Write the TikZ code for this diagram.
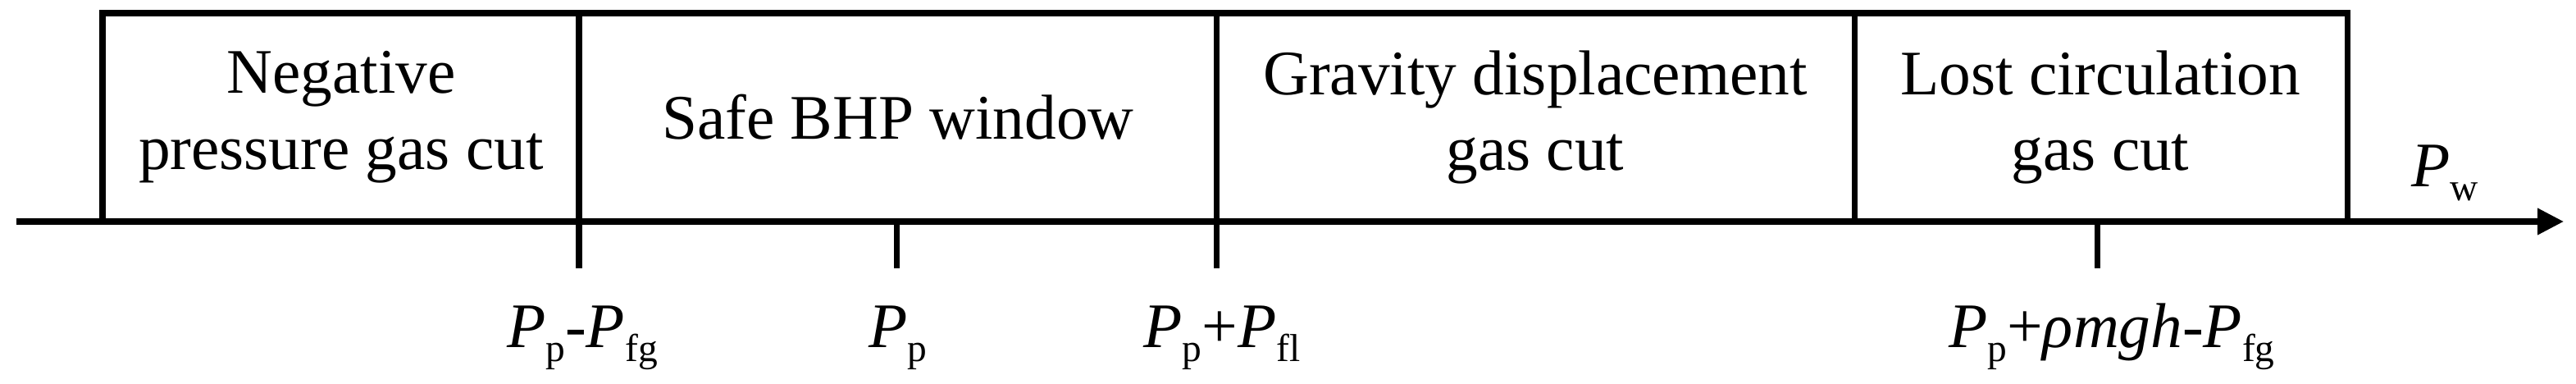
\documentclass[tikz,border=0pt]{standalone}
\usepackage{fontspec}
\setmainfont{Liberation Serif}
\usepackage{tikz}
\usetikzlibrary{arrows.meta,positioning}

% lowered subscript, upright
\newcommand{\lsub}[1]{\raisebox{-5pt}{\fontsize{13.5}{14}\selectfont #1}}

\begin{document}
\begin{tikzpicture}[line width=2pt, every node/.style={font=\fontsize{22}{26.4}\selectfont, inner sep=0pt},
    zone/.style={align=center}, lbl/.style={anchor=base}]

   \useasboundingbox (0,-1.97) rectangle (31.41,2.70);

   % Define the points on the axis
   \coordinate (ax_start) at (0.20,0);
   \coordinate (ax_end) at (31.26,0);
   \coordinate (b0) at (1.25,0);
   \coordinate (b1) at (7.06,0);
   \coordinate (pp) at (10.93,0);
   \coordinate (b2) at (14.83,0);
   \coordinate (b3) at (22.61,0);
   \coordinate (plc) at (25.57,0);
   \coordinate (b4) at (28.62,0);
   \coordinate (top) at (0,2.54);
   \coordinate (tk) at (0,-0.57);

   % Define the zones
   \node[zone] (neg) at (4.16,1.27) {Negative\\pressure gas cut};
   \node[zone] (safe) at (10.95,1.27) {Safe BHP window};
   \node[zone] (grav) at (18.72,1.27) {Gravity displacement\\gas cut};
   \node[zone] (lost) at (25.61,1.27) {Lost circulation\\gas cut};

   % Define the labels
   \node[lbl] (p_neg) at (7.10,-1.53) {\textit{P}\lsub{p}-\textit{P}\lsub{fg}};
   \node[lbl] (p_p) at (10.95,-1.53) {\textit{P}\lsub{p}};
   \node[lbl] (p_fl) at (14.90,-1.53) {\textit{P}\lsub{p}+\textit{P}\lsub{fl}};
   \node[lbl] (p_lc) at (25.75,-1.53) {\textit{P}\lsub{p}+\textit{ρmgh}-\textit{P}\lsub{fg}};
   \node[lbl] (p_w) at (29.81,0.43) {\textit{P}\lsub{w}};

   % Frame and dividers
   \draw (b0) -- (b0|-top) -- (b4|-top) -- (b4);
   \draw (b1|-top) -- (b1|-tk);
   \draw (b2|-top) -- (b2|-tk);
   \draw (b3|-top) -- (b3);
   \draw (pp) -- (pp|-tk);
   \draw (plc) -- (plc|-tk);

   % Axis
   \draw[-{Triangle[length=0.32cm,width=0.31cm]}] (ax_start) -- (ax_end);

\end{tikzpicture}
\end{document}
